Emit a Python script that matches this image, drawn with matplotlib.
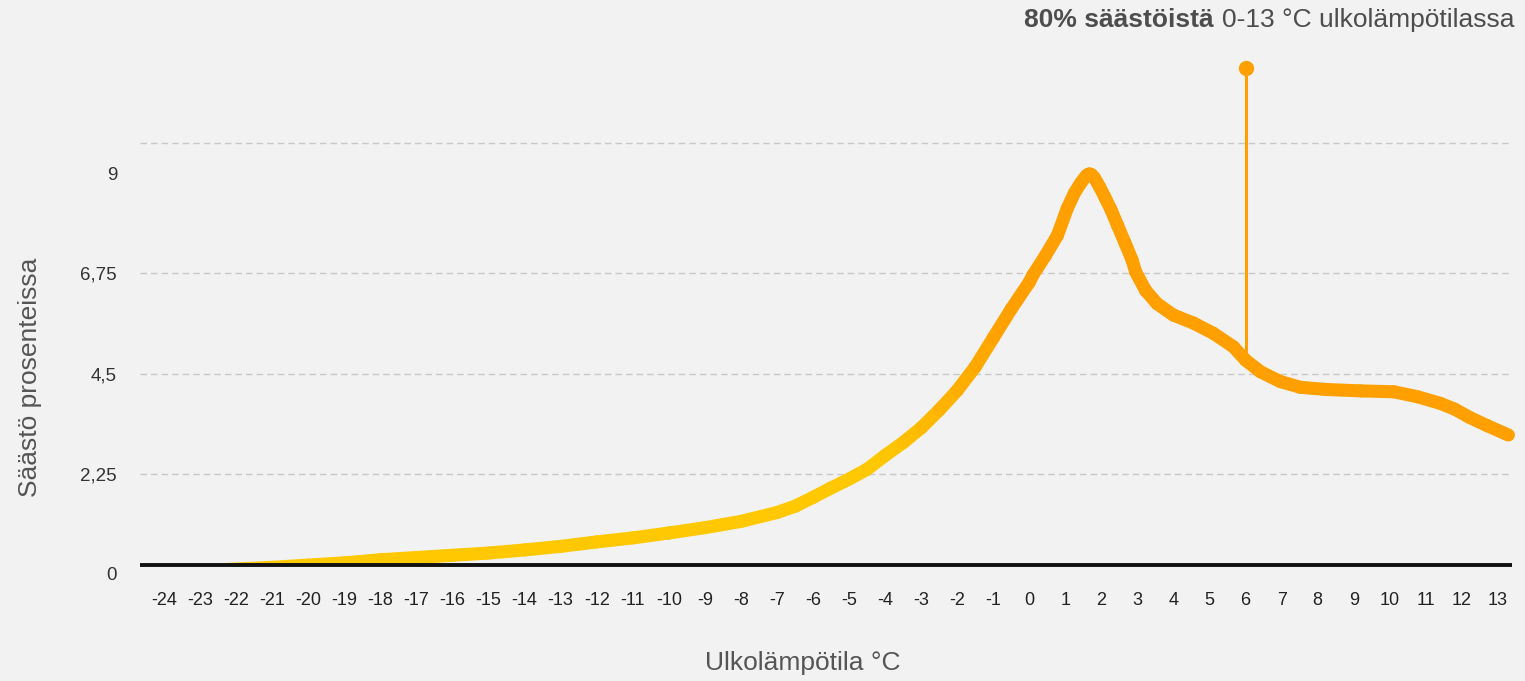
import matplotlib.pyplot as plt
import numpy as np
from matplotlib.collections import LineCollection
from matplotlib.colors import to_rgb
from matplotlib.patches import Rectangle

plt.rcParams['font.family'] = ['Liberation Sans', 'DejaVu Sans']

# data
temps = [-22.3, -21, -20, -19, -18, -17, -16, -15, -14, -13, -12, -11, -10, -9, -8, -7,
         -6.5, -6, -5.5, -5, -4.5, -4, -3.5, -3, -2.5, -2, -1.5, -1, -0.5, 0, 0.1, 0.45,
         0.78, 1.05, 1.25, 1.43, 1.55, 1.61, 1.67, 1.73, 1.8, 1.95, 2.1, 2.27, 2.45, 2.66,
         2.85, 2.95, 3.22, 3.54, 4.0, 4.56, 5.11, 5.66, 6.0, 6.41, 6.96, 7.52, 8.26, 9.19,
         10.11, 10.76, 11.4, 11.8, 12.2, 12.7, 13.29]
savings = [0.1, 0.15, 0.2, 0.25, 0.32, 0.37, 0.42, 0.47, 0.54, 0.62, 0.72, 0.81, 0.92, 1.04, 1.18, 1.38,
           1.52, 1.72, 1.93, 2.13, 2.35, 2.66, 2.95, 3.28, 3.68, 4.12, 4.65, 5.3, 5.95, 6.55, 6.71, 7.15,
           7.6, 8.2, 8.55, 8.78, 8.91, 8.96, 8.98, 8.96, 8.9, 8.69, 8.45, 8.17, 7.82, 7.42,
           7.05, 6.78, 6.37, 6.07, 5.81, 5.63, 5.4, 5.1, 4.8, 4.54, 4.32, 4.19, 4.14, 4.11,
           4.09, 3.98, 3.83, 3.7, 3.52, 3.33, 3.12]

x_ticks = list(range(-24, 14))
y_ticks = [0, 2.25, 4.5, 6.75, 9]
y_tick_labels = ['0', '2,25', '4,5', '6,75', '9']
grid_levels = [2.25, 4.5, 6.75, 9.67]
baseline_level = 0.2
marker_temp = 6
marker_bottom = 4.8
marker_top = 11.36

W, H = 1525, 681
bg = '#f2f2f2'
yellow = np.array(to_rgb('#ffc800'))
orange = np.array(to_rgb('#ff9f00'))

fig = plt.figure(figsize=(W / 100, H / 100), dpi=100, facecolor=bg)
ax = fig.add_axes([140 / W, 1 - 585 / H, (1512 - 140) / W, (585 - 30) / H])
ax.set_facecolor(bg)
ax.set_xlim(-24.67, 13.39)
ax.set_ylim(-0.247, 12.21)

for lvl in grid_levels:
    ax.axhline(lvl, color='#c8c8c8', lw=1, linestyle=(0, (4.7, 2.9)), zorder=1)

# vertical marker
ax.plot([marker_temp, marker_temp], [marker_bottom, marker_top], color='#ffa000', lw=2.2, zorder=2)
ax.plot(marker_temp, marker_top, 'o', color='#ffa000', ms=10, zorder=2)

# gradient curve, yellow on the cold side turning orange near zero
pts = np.column_stack([temps, savings])
segs = np.stack([pts[:-1], pts[1:]], axis=1)
mid = (pts[:-1, 0] + pts[1:, 0]) / 2
t = np.clip((mid + 4.0) / 3.5, 0, 1)
cols = yellow[None, :] * (1 - t[:, None]) + orange[None, :] * t[:, None]
lc = LineCollection(segs, colors=cols, linewidths=9.4, capstyle='round', joinstyle='round', zorder=3)
ax.add_collection(lc)
clip = Rectangle((-30, baseline_level), 60, 20, transform=ax.transData)
lc.set_clip_path(clip)

ax.axhline(baseline_level, color='#111111', lw=2.8, zorder=4)

for s in ax.spines.values():
    s.set_visible(False)
ax.set_xticks(x_ticks)
ax.set_xticklabels([str(v) for v in x_ticks])
ax.set_yticks(y_ticks)
ax.set_yticklabels(y_tick_labels)
ax.tick_params(axis='x', length=0, pad=5.2, labelsize=13, labelcolor='#222222')
ax.tick_params(axis='y', length=0, pad=16.5, labelsize=13.5, labelcolor='#333333')

fig.text(30 / W, 1 - 377 / H, 'Säästö prosenteissa', rotation=90, ha='center', va='center',
         fontsize=19, color='#555555')
fig.text(803 / W, 1 - 663 / H, 'Ulkolämpötila °C', ha='center', va='center',
         fontsize=19, color='#555555')

fig.canvas.draw()
renderer = fig.canvas.get_renderer()
t2 = fig.text(1515 / W, 1 - 27 / H, '0-13 °C ulkolämpötilassa', ha='right', va='baseline',
              fontsize=19, color='#4d4d4d')
bb = t2.get_window_extent(renderer)
fig.text((bb.x0 - 9) / W, 1 - 27 / H, '80% säästöistä', ha='right', va='baseline',
         fontsize=19, fontweight='bold', color='#4d4d4d')

fig.savefig('out.png', dpi=100, facecolor=bg)
